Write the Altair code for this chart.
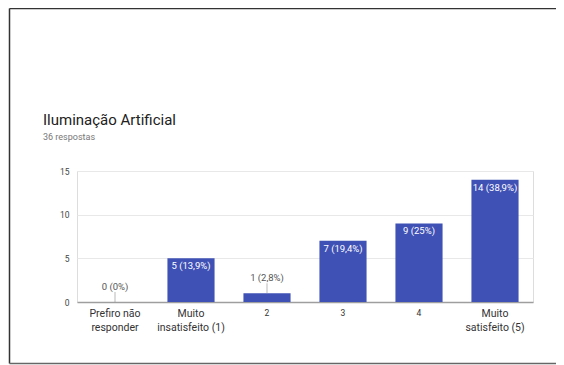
import altair as alt
import pandas as pd

categories = ["Prefiro não|responder", "Muito|insatisfeito (1)", "2", "3", "4", "Muito|satisfeito (5)"]
counts = [0, 5, 1, 7, 9, 14]
percents = ["0%", "13,9%", "2,8%", "19,4%", "25%", "38,9%"]
y_ticks = [0, 2.5, 5, 7.5, 10, 12.5, 15]

df = pd.DataFrame({
    "cat": categories,
    "n": counts,
    "label": [f"{c} ({p})" for c, p in zip(counts, percents)],
})
one = pd.DataFrame({"k": [0]})

FONT = "Roboto"
xenc = alt.X("cat:N", sort=categories, scale=alt.Scale(paddingInner=0.38, paddingOuter=0.19),
             axis=alt.Axis(title=None, labelExpr="split(datum.label, '|')", labelAngle=0,
                           labelFontSize={"condition": {"test": "length(datum.label) < 3", "value": 8.5}, "value": 10.5},
                           labelColor="#333", labelFont=FONT, labelPadding=6, labelLineHeight=14,
                           labelBaseline="top",
                           ticks=False, domainColor="#9e9e9e", domainWidth=1.5, grid=False))
yscale = alt.Scale(domain=[0, 15], nice=False)

bars = alt.Chart(df).mark_bar(color="#3f51b5").encode(
    x=xenc,
    y=alt.Y("n:Q", scale=yscale,
            axis=alt.Axis(title=None, values=y_ticks,
                          labelExpr="datum.value % 5 == 0 ? datum.label : ''",
                          labelFontSize=8.5, labelColor="#444", labelFont=FONT, labelPadding=8,
                          ticks=False, domain=False,
                          gridColor={"condition": {"test": "datum.value % 5 != 0", "value": "#f4f4f4"}, "value": "#e8e8e8"})),
)

inside = alt.Chart(df).transform_filter("datum.n >= 5").mark_text(
    baseline="top", dy=3, color="white", fontSize=9.5, font=FONT
).encode(x=alt.X("cat:N", sort=categories), y=alt.Y("n:Q", scale=yscale), text="label:N")

above = alt.Chart(df).transform_filter("datum.n < 5").mark_text(
    baseline="bottom", dy=-10, color="#555", fontSize=9.5, font=FONT
).encode(x=alt.X("cat:N", sort=categories), y=alt.Y("n:Q", scale=yscale), text="label:N")

leader = alt.Chart(df).transform_filter("datum.n < 5").mark_tick(
    orient="vertical", size=10, thickness=1, color="#9e9e9e", yOffset=-5
).encode(x=alt.X("cat:N", sort=categories), y=alt.Y("n:Q", scale=yscale))

title = alt.Chart(one).mark_text(
    text="Iluminação Artificial", align="left", baseline="alphabetic", fontSize=15, font=FONT, color="#212121"
).encode(x=alt.value(-34), y=alt.value(-46))
subtitle = alt.Chart(one).mark_text(
    text="36 respostas", align="left", baseline="alphabetic", fontSize=9, font=FONT, color="#777"
).encode(x=alt.value(-34), y=alt.value(-31))

border_left = alt.Chart(one).mark_rule(color="#333", strokeWidth=1.5).encode(
    x=alt.value(-67.5), y=alt.value(-162.5), y2=alt.value(192.5))
border_top = alt.Chart(one).mark_rule(color="#333", strokeWidth=1.5).encode(
    x=alt.value(-67.5), x2=alt.value(486), y=alt.value(-162.5))
border_bottom = alt.Chart(one).mark_rule(color="#666", strokeWidth=1.5).encode(
    x=alt.value(-67.5), x2=alt.value(486), y=alt.value(192.5))

chart = alt.layer(bars, inside, above, leader, title, subtitle, border_left, border_top, border_bottom).properties(
    width=456, height=131,
    autosize=alt.AutoSizeParams(type="none"),
    padding={"left": 69, "top": 163, "right": 23, "bottom": 63},
).configure_view(stroke=None).configure(background="white")

chart.save("out.html", embed_options={"renderer": "svg", "actions": False})
